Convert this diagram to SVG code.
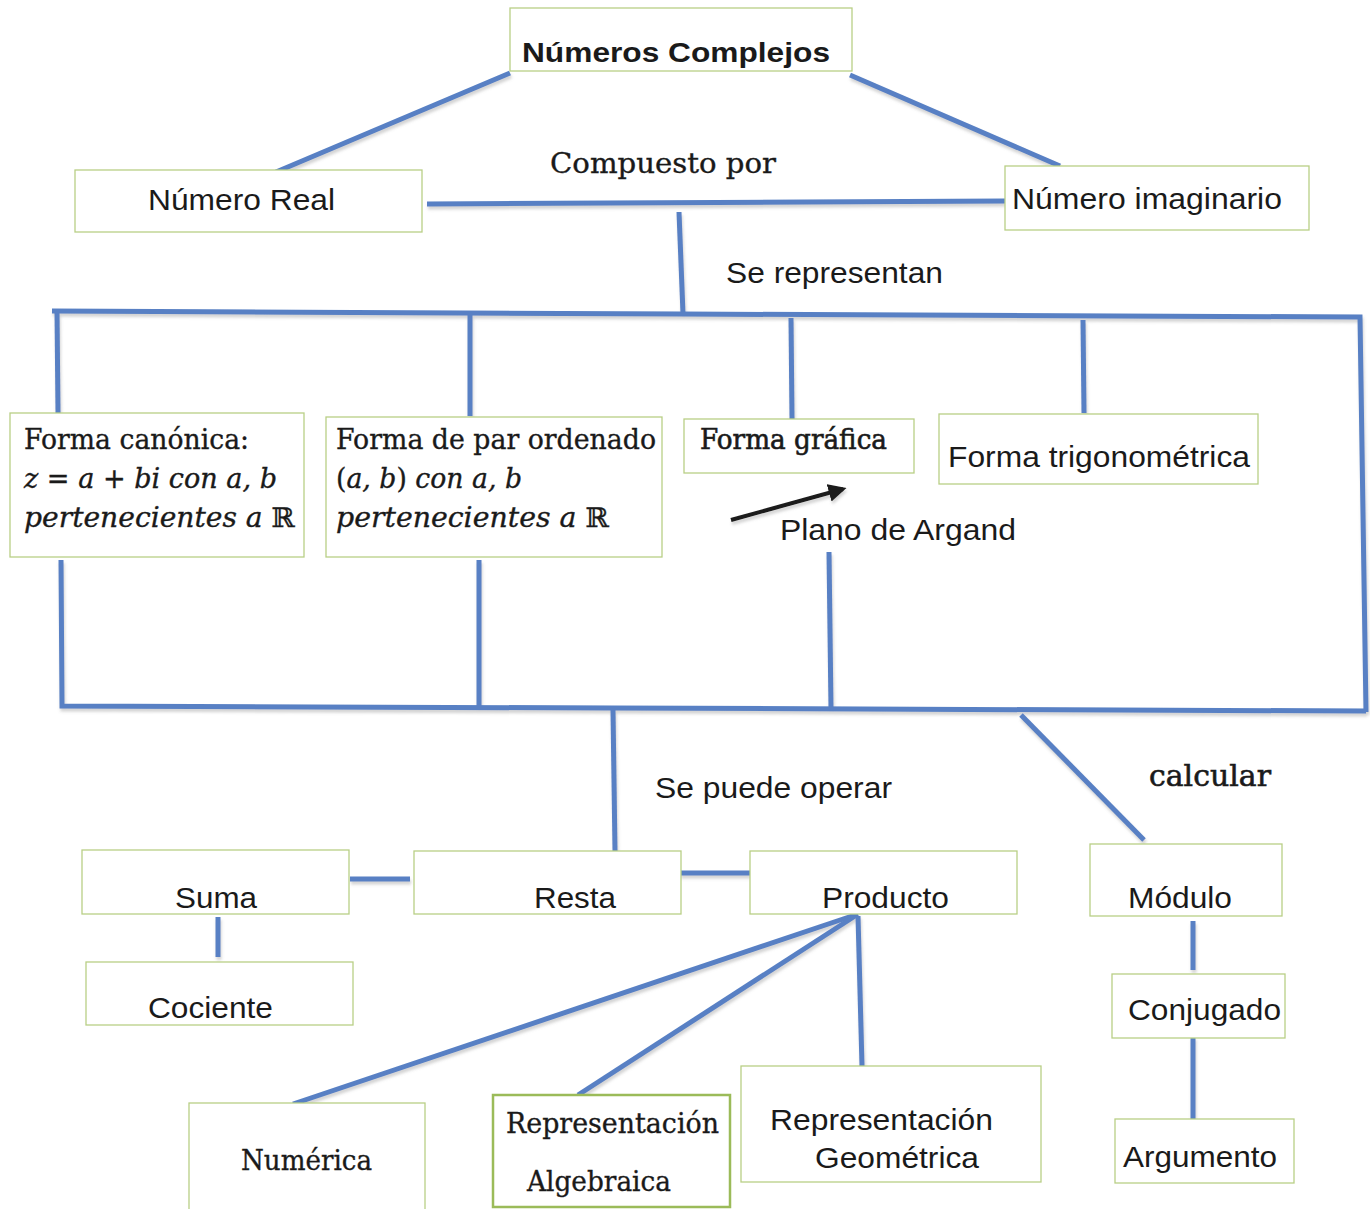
<svg xmlns="http://www.w3.org/2000/svg" width="1370" height="1209" viewBox="0 0 1370 1209">
  <defs>
    <filter id="shadow" x="-5%" y="-5%" width="110%" height="120%">
      <feDropShadow dx="1" dy="3" stdDeviation="1.5" flood-color="#808080" flood-opacity="0.35"/>
    </filter>
    <marker id="arrowhead" viewBox="0 0 10 10" refX="8" refY="5" markerWidth="4.5" markerHeight="4.5" orient="auto" markerUnits="strokeWidth">
      <path d="M0,0 L10,5 L0,10 z" fill="#1a1a1a"/>
    </marker>
  </defs>
  <style>
    .box { fill: #ffffff; stroke: #b9cf86; stroke-width: 1.3; }
    .box-strong { fill: #ffffff; stroke: #9bbb59; stroke-width: 2.5; }
    .link { stroke: #5880c4; stroke-width: 5; fill: none; stroke-linecap: butt; }
    .sans { font-family: "Liberation Sans", Arial, sans-serif; fill: #1a1a1a; }
    .serif { font-family: "DejaVu Serif", "Liberation Serif", serif; fill: #1a1a1a; stroke: #1a1a1a; stroke-width: 0.35; }
    .serif-mid { font-family: "DejaVu Serif", "Liberation Serif", serif; fill: #1a1a1a; stroke: #1a1a1a; stroke-width: 0.6; }
    .math { font-family: "DejaVu Serif", "Liberation Serif", serif; font-style: italic; fill: #1a1a1a; stroke: #1a1a1a; stroke-width: 0.35; }
  </style>
  <rect width="1370" height="1209" fill="#ffffff"/>

  <!-- connectors -->
  <g id="connectors" filter="url(#shadow)">
    <line class="link" x1="510" y1="73" x2="276" y2="172"/>
    <line class="link" x1="850" y1="75" x2="1060" y2="166"/>
    <line class="link" x1="427" y1="204" x2="1005" y2="201"/>
    <line class="link" x1="679" y1="212" x2="683" y2="314"/>
    <polyline class="link" points="52,311 683,314 1360,317 1366,712"/>
    <line class="link" x1="57" y1="311" x2="58" y2="413"/>
    <line class="link" x1="470" y1="315" x2="470" y2="416"/>
    <line class="link" x1="791" y1="318" x2="792" y2="419"/>
    <line class="link" x1="1083" y1="320" x2="1084" y2="413"/>
    <polyline class="link" points="61,560 62,706 613,708 1366,711"/>
    <line class="link" x1="479" y1="560" x2="479" y2="707"/>
    <line class="link" x1="829" y1="552" x2="831" y2="709"/>
    <line class="link" x1="613" y1="710" x2="615" y2="851"/>
    <line class="link" x1="1021" y1="715" x2="1144" y2="840"/>
    <line class="link" x1="350" y1="879" x2="410" y2="879"/>
    <line class="link" x1="680" y1="873" x2="750" y2="873"/>
    <line class="link" x1="218" y1="917" x2="218" y2="957"/>
    <line class="link" x1="1193" y1="921" x2="1193" y2="970"/>
    <line class="link" x1="1193" y1="1037" x2="1193" y2="1119"/>
    <line class="link" x1="858" y1="914" x2="293" y2="1104"/>
    <line class="link" x1="855" y1="916" x2="578" y2="1095"/>
    <line class="link" x1="858" y1="916" x2="862" y2="1066"/>
    <line x1="731" y1="520" x2="843" y2="489" stroke="#1a1a1a" stroke-width="4" marker-end="url(#arrowhead)"/>
  </g>

  <!-- edge labels -->
  <g id="labels">
    <text class="serif" x="550" y="173" font-size="28" textLength="226" lengthAdjust="spacingAndGlyphs">Compuesto por</text>
    <text class="sans" x="726" y="283" font-size="29" textLength="217" lengthAdjust="spacingAndGlyphs">Se representan</text>
    <text class="sans" x="780" y="540" font-size="29" textLength="236" lengthAdjust="spacingAndGlyphs">Plano de Argand</text>
    <text class="sans" x="655" y="798" font-size="29" textLength="237" lengthAdjust="spacingAndGlyphs">Se puede operar</text>
    <text class="serif-mid" x="1149" y="786" font-size="29" textLength="122" lengthAdjust="spacingAndGlyphs">calcular</text>
  </g>

  <g id="node-complejos">
    <rect class="box" x="510" y="8" width="342" height="63"/>
    <text class="sans" x="522" y="62" font-size="28" font-weight="bold" textLength="308" lengthAdjust="spacingAndGlyphs">Números Complejos</text>
  </g>
  <g id="node-real">
    <rect class="box" x="75" y="170" width="347" height="62"/>
    <text class="sans" x="148" y="210" font-size="29" textLength="187" lengthAdjust="spacingAndGlyphs">Número Real</text>
  </g>
  <g id="node-imaginario">
    <rect class="box" x="1005" y="166" width="304" height="64"/>
    <text class="sans" x="1012" y="209" font-size="29" textLength="270" lengthAdjust="spacingAndGlyphs">Número imaginario</text>
  </g>

  <g id="node-canonica">
    <rect class="box" x="10" y="413" width="294" height="144"/>
    <text class="serif" x="24" y="449" font-size="27" textLength="225" lengthAdjust="spacingAndGlyphs">Forma canónica:</text>
    <text class="math" x="24" y="488" font-size="27" textLength="253" lengthAdjust="spacingAndGlyphs">z <tspan font-style="normal">=</tspan> a <tspan font-style="normal">+</tspan> bi con a, b</text>
    <text class="math" x="24" y="527" font-size="27" textLength="271" lengthAdjust="spacingAndGlyphs">pertenecientes a <tspan font-style="normal">ℝ</tspan></text>
  </g>
  <g id="node-par">
    <rect class="box" x="326" y="417" width="336" height="140"/>
    <text class="serif" x="336" y="449" font-size="27" textLength="320" lengthAdjust="spacingAndGlyphs">Forma de par ordenado</text>
    <text class="math" x="336" y="488" font-size="27" textLength="186" lengthAdjust="spacingAndGlyphs"><tspan font-style="normal">(</tspan>a, b<tspan font-style="normal">)</tspan> con a, b</text>
    <text class="math" x="336" y="527" font-size="27" textLength="273" lengthAdjust="spacingAndGlyphs">pertenecientes a <tspan font-style="normal">ℝ</tspan></text>
  </g>
  <g id="node-grafica">
    <rect class="box" x="684" y="419" width="230" height="54"/>
    <text class="serif-mid" x="700" y="449" font-size="27" textLength="187" lengthAdjust="spacingAndGlyphs">Forma gráfica</text>
  </g>
  <g id="node-trigonometrica">
    <rect class="box" x="939" y="414" width="319" height="70"/>
    <text class="sans" x="948" y="467" font-size="29" textLength="302" lengthAdjust="spacingAndGlyphs">Forma trigonométrica</text>
  </g>

  <g id="node-suma">
    <rect class="box" x="82" y="850" width="267" height="64"/>
    <text class="sans" x="175" y="908" font-size="29" textLength="82" lengthAdjust="spacingAndGlyphs">Suma</text>
  </g>
  <g id="node-resta">
    <rect class="box" x="414" y="851" width="267" height="63"/>
    <text class="sans" x="534" y="908" font-size="29" textLength="82" lengthAdjust="spacingAndGlyphs">Resta</text>
  </g>
  <g id="node-producto">
    <rect class="box" x="750" y="851" width="267" height="63"/>
    <text class="sans" x="822" y="908" font-size="29" textLength="127" lengthAdjust="spacingAndGlyphs">Producto</text>
  </g>
  <g id="node-modulo">
    <rect class="box" x="1090" y="844" width="192" height="72"/>
    <text class="sans" x="1128" y="908" font-size="29" textLength="104" lengthAdjust="spacingAndGlyphs">Módulo</text>
  </g>
  <g id="node-cociente">
    <rect class="box" x="86" y="962" width="267" height="63"/>
    <text class="sans" x="148" y="1018" font-size="29" textLength="125" lengthAdjust="spacingAndGlyphs">Cociente</text>
  </g>
  <g id="node-conjugado">
    <rect class="box" x="1112" y="974" width="173" height="64"/>
    <text class="sans" x="1128" y="1020" font-size="29" textLength="153" lengthAdjust="spacingAndGlyphs">Conjugado</text>
  </g>
  <g id="node-argumento">
    <rect class="box" x="1115" y="1119" width="179" height="64"/>
    <text class="sans" x="1123" y="1167" font-size="29" textLength="154" lengthAdjust="spacingAndGlyphs">Argumento</text>
  </g>

  <g id="node-numerica">
    <rect class="box" x="189" y="1103" width="236" height="110"/>
    <text class="serif" x="241" y="1170" font-size="28" textLength="131" lengthAdjust="spacingAndGlyphs" stroke-width="0.2">Numérica</text>
  </g>
  <g id="node-algebraica">
    <rect class="box-strong" x="493" y="1095" width="237" height="112"/>
    <text class="serif" x="506" y="1133" font-size="27" textLength="213" lengthAdjust="spacingAndGlyphs">Representación</text>
    <text class="serif" x="527" y="1191" font-size="27" textLength="144" lengthAdjust="spacingAndGlyphs">Algebraica</text>
  </g>
  <g id="node-geometrica">
    <rect class="box" x="741" y="1066" width="300" height="116"/>
    <text class="sans" x="770" y="1130" font-size="29" textLength="223" lengthAdjust="spacingAndGlyphs">Representación</text>
    <text class="sans" x="815" y="1168" font-size="29" textLength="164" lengthAdjust="spacingAndGlyphs">Geométrica</text>
  </g>
</svg>
